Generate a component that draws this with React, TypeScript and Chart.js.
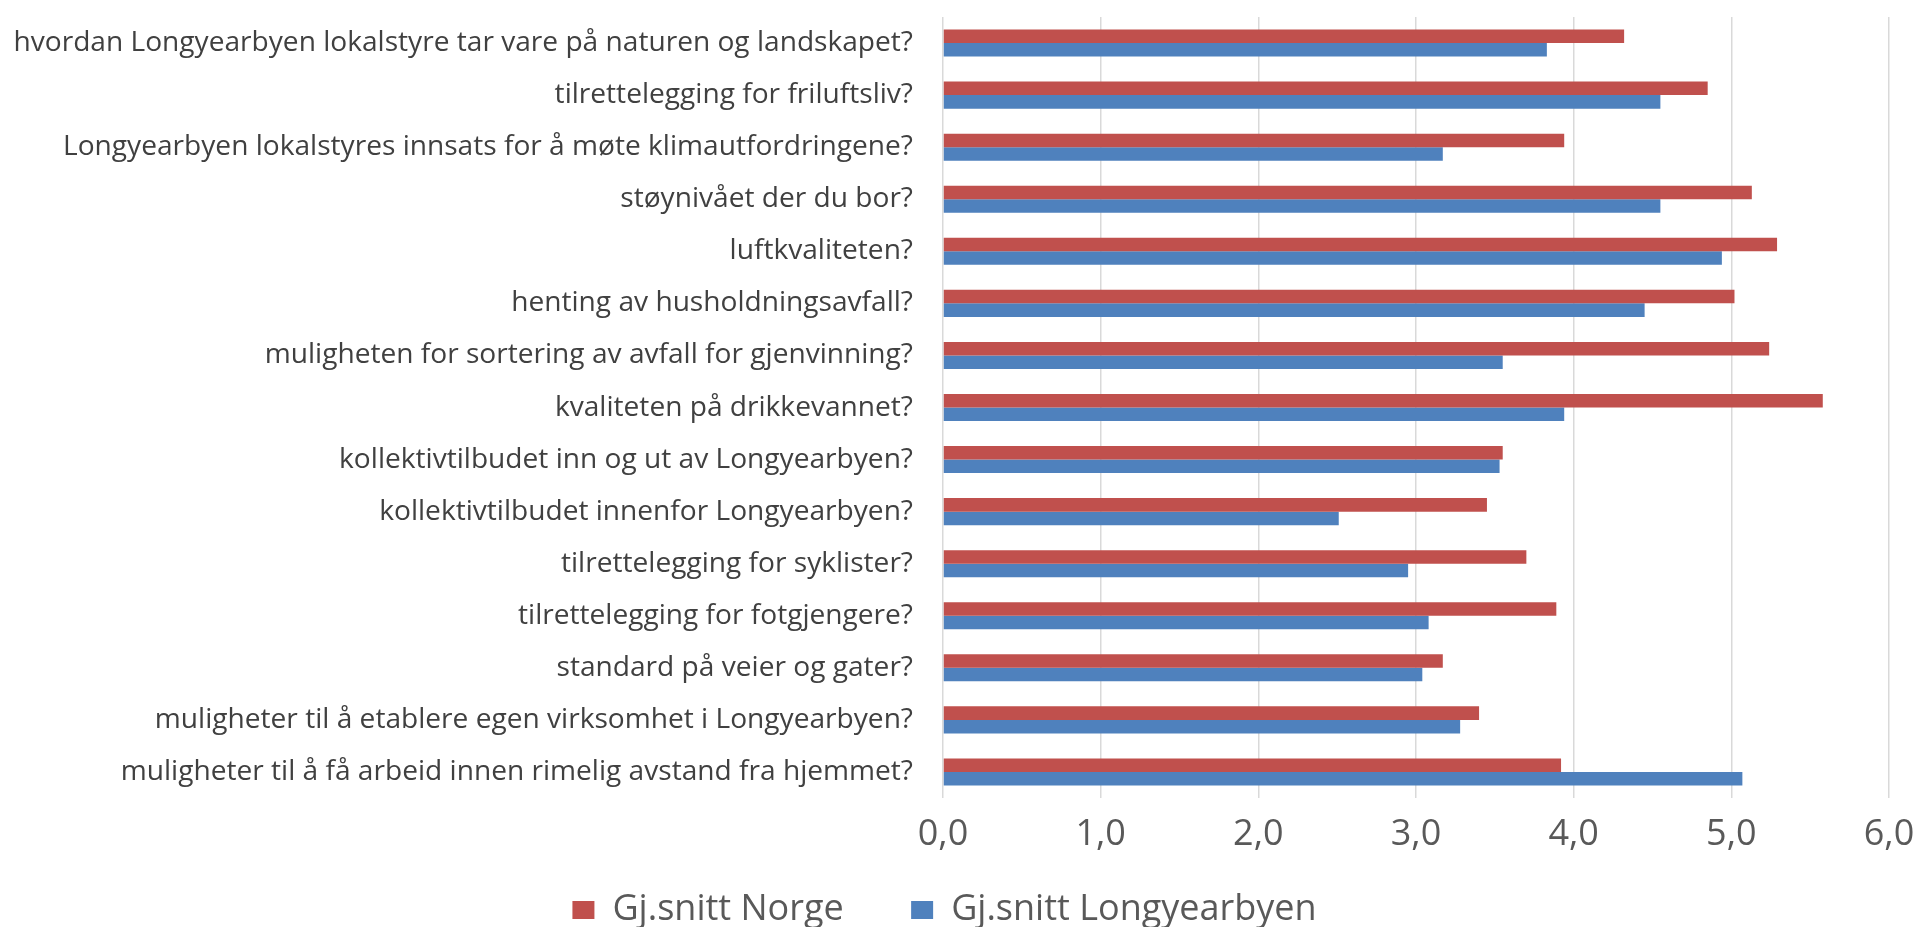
import React, { useEffect, useRef } from 'react';
import { Chart, registerables } from 'chart.js';

Chart.register(...registerables);

const categories = [
  'hvordan Longyearbyen lokalstyre tar vare på naturen og landskapet?',
  'tilrettelegging for friluftsliv?',
  'Longyearbyen lokalstyres innsats for å møte klimautfordringene?',
  'støynivået der du bor?',
  'luftkvaliteten?',
  'henting av husholdningsavfall?',
  'muligheten for sortering av avfall for gjenvinning?',
  'kvaliteten på drikkevannet?',
  'kollektivtilbudet inn og ut av Longyearbyen?',
  'kollektivtilbudet innenfor Longyearbyen?',
  'tilrettelegging for syklister?',
  'tilrettelegging for fotgjengere?',
  'standard på veier og gater?',
  'muligheter til å etablere egen virksomhet i Longyearbyen?',
  'muligheter til å få arbeid innen rimelig avstand fra hjemmet?',
];

const norge = [4.32, 4.85, 3.94, 5.13, 5.29, 5.02, 5.24, 5.58, 3.55, 3.45, 3.7, 3.89, 3.17, 3.4, 3.92];
const longyearbyen = [3.83, 4.55, 3.17, 4.55, 4.94, 4.45, 3.55, 3.94, 3.53, 2.51, 2.95, 3.08, 3.04, 3.28, 5.07];

const seriesNames = ['Gj.snitt Norge', 'Gj.snitt Longyearbyen'];
const xTickLabels = ['0,0', '1,0', '2,0', '3,0', '4,0', '5,0', '6,0'];

const FAMILY = '"Open Sans", "Noto Sans", sans-serif';
const W = 1917;
const CANVAS_H = 938;
const PLOT_LEFT = 943;
const PLOT_TOP = 17;
const PLOT_BOTTOM = 798;
const LEGEND_FONT = 36;
const LEGEND_PAD = 30;
const LABEL_WIDTH = 900;

function labelFontSize(family: string): number {
  const ctx = document.createElement('canvas').getContext('2d');
  if (!ctx) return 25;
  ctx.font = `100px ${family}`;
  let maxW = 0;
  for (const c of categories) maxW = Math.max(maxW, ctx.measureText(c).width);
  return (100 * LABEL_WIDTH) / maxW;
}

export default function App() {
  const ref = useRef<HTMLCanvasElement | null>(null);

  useEffect(() => {
    if (!ref.current) return;
    const labelSize = labelFontSize(FAMILY);
    const legendH = LEGEND_FONT + LEGEND_PAD + 10;
    const xAxisH = CANVAS_H - legendH - PLOT_BOTTOM;

    const chart = new Chart(ref.current, {
      type: 'bar',
      data: {
        labels: categories,
        datasets: [
          {
            label: seriesNames[0],
            data: norge,
            backgroundColor: '#C0504D',
            borderWidth: 0,
            categoryPercentage: 0.52,
            barPercentage: 1,
          },
          {
            label: seriesNames[1],
            data: longyearbyen,
            backgroundColor: '#4F81BD',
            borderWidth: 0,
            categoryPercentage: 0.52,
            barPercentage: 1,
          },
        ],
      },
      options: {
        indexAxis: 'y',
        responsive: true,
        maintainAspectRatio: false,
        animation: false,
        layout: { padding: { top: PLOT_TOP, right: 28, bottom: 0, left: 0 } },
        scales: {
          x: {
            min: 0,
            max: 6,
            ticks: {
              stepSize: 1,
              autoSkip: false,
              maxRotation: 0,
              callback: (_v: any, i: number) => xTickLabels[i],
              font: { family: FAMILY, size: 36 },
              color: '#595959',
              padding: 15,
            },
            grid: { color: '#d9d9d9', lineWidth: 1.5, drawTicks: false },
            border: { display: false },
            afterFit: (s: any) => {
              s.height = xAxisH;
              s.paddingLeft = 0;
              s.paddingRight = 0;
            },
          },
          y: {
            ticks: {
              autoSkip: false,
              font: { family: FAMILY, size: labelSize },
              color: '#404040',
              padding: 30,
            },
            grid: { display: false, drawTicks: false },
            border: { display: false },
            afterFit: (s: any) => {
              s.width = PLOT_LEFT;
              s.paddingTop = 0;
              s.paddingBottom = 0;
            },
          },
        },
        plugins: {
          legend: {
            position: 'bottom',
            labels: {
              boxWidth: 22,
              boxHeight: 18,
              padding: LEGEND_PAD,
              color: '#595959',
              font: { family: FAMILY, size: LEGEND_FONT },
              generateLabels: (c: any) => {
                const items = Chart.defaults.plugins.legend.labels.generateLabels(c);
                if (items.length) items[0].text = items[0].text + '\u00A0\u00A0\u00A0\u00A0';
                return items;
              },
            },
          },
          tooltip: { enabled: false },
        },
      },
    });
    return () => chart.destroy();
  }, []);

  return (
    <div style={{ position: 'fixed', left: 0, top: 0, width: W, height: CANVAS_H, background: '#fff' }}>
      <canvas ref={ref} />
    </div>
  );
}
